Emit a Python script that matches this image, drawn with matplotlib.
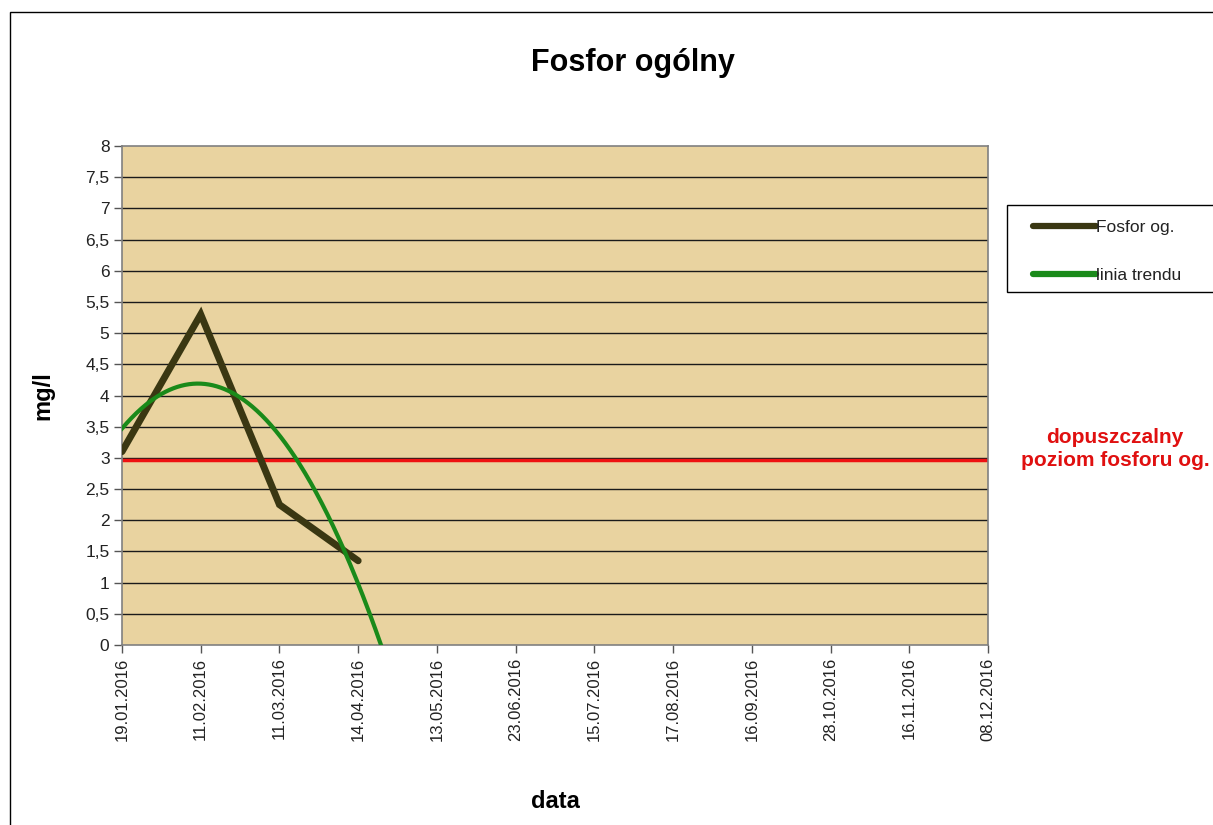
import numpy as np
import matplotlib
matplotlib.use("Agg")
import matplotlib.pyplot as plt
from matplotlib.patches import Rectangle

plt.rcParams['font.family'] = ['Liberation Sans', 'DejaVu Sans']

# ---- data ----
dates = ["19.01.2016", "11.02.2016", "11.03.2016", "14.04.2016", "13.05.2016",
         "23.06.2016", "15.07.2016", "17.08.2016", "16.09.2016", "28.10.2016",
         "16.11.2016", "08.12.2016"]
fosfor = [3.1, 5.3, 2.25, 1.35]
limit_value = 2.97
y_ticks = [0, 0.5, 1, 1.5, 2, 2.5, 3, 3.5, 4, 4.5, 5, 5.5, 6, 6.5, 7, 7.5, 8]
y_tick_labels = ["0", "0,5", "1", "1,5", "2", "2,5", "3", "3,5", "4", "4,5",
                 "5", "5,5", "6", "6,5", "7", "7,5", "8"]

series_color = "#3a3712"
trend_color = "#1a8a1a"
limit_color = "#ee1111"

W, H = 1213, 825
fig = plt.figure(figsize=(W / 100, H / 100), dpi=100)
fig.patch.set_facecolor("white")

# outer chart frame
fig.patches.append(Rectangle((10 / W, -0.05), 1.2, (H - 12) / H + 0.05,
                             transform=fig.transFigure, fill=False,
                             edgecolor="black", linewidth=1.0))

ax = fig.add_axes([122 / W, 1 - 645 / H, (988 - 122) / W, (645 - 146) / H])
ax.set_facecolor("#e9d3a0")

x = np.arange(len(dates))
xs = x[:len(fosfor)]

# horizontal gridlines
for v in y_ticks[1:-1]:
    ax.axhline(v, color="#1a1a1a", linewidth=1.0, zorder=1)

# limit line
ax.axhline(limit_value, color=limit_color, linewidth=2.5, zorder=2)

# data series
line1, = ax.plot(xs, fosfor, color=series_color, linewidth=5,
                 solid_capstyle="round", solid_joinstyle="miter", zorder=4,
                 label="Fosfor og.")

# polynomial (order 2) trend line, as in the spreadsheet
coef = np.polyfit(xs, fosfor, 2)
xt = np.linspace(0, 4, 400)
yt = np.polyval(coef, xt)
mask = yt >= 0
line2, = ax.plot(xt[mask], yt[mask], color=trend_color, linewidth=3,
                 zorder=5, label="linia trendu")

ax.set_xlim(0, len(dates) - 1)
ax.set_ylim(0, 8)
ax.set_yticks(y_ticks)
ax.set_yticklabels(y_tick_labels, fontsize=12.5, color="#222222")
ax.set_xticks(x)
ax.set_xticklabels(dates, rotation=90, fontsize=12, color="#222222")
ax.tick_params(axis="both", direction="out", length=6, width=1, color="#555555", pad=3)

for s in ax.spines.values():
    s.set_color("#808080")
    s.set_linewidth(1.2)

ax.set_ylabel("mg/l", fontsize=17, fontweight="bold")
ax.yaxis.set_label_coords(-0.078, 0.5)
ax.set_xlabel("data", fontsize=17, fontweight="bold")
ax.xaxis.set_label_coords(0.5, -0.29)

fig.text(633 / W, 1 - 63 / H, "Fosfor ogólny", fontsize=22, fontweight="bold",
         ha="center", va="center")

fig.text(1115 / W, 1 - 449 / H, "dopuszczalny\npoziom fosforu og.",
         color="#e01010", fontsize=15, fontweight="bold", ha="center",
         va="center", linespacing=1.25)

# legend box (extends past the right edge like the reference)
fig.patches.append(Rectangle((1007 / W, 1 - 292 / H), 230 / W, 87 / H,
                             transform=fig.transFigure, fill=True,
                             facecolor="white", edgecolor="black",
                             linewidth=1.0, zorder=3))
leg = fig.legend(handles=[line1, line2], loc="upper left",
                 bbox_to_anchor=(1033 / W, 1 - 220 / H), fontsize=12.5,
                 frameon=False, handlelength=3.6, handletextpad=0.05,
                 labelspacing=1.9, borderpad=0, borderaxespad=0)
leg.set_zorder(4)
for h in leg.get_lines():
    h.set_linewidth(4.5)
    h.set_solid_capstyle("round")
for t in leg.get_texts():
    t.set_color("#222222")

fig.savefig("out.png", dpi=100, facecolor="white")
